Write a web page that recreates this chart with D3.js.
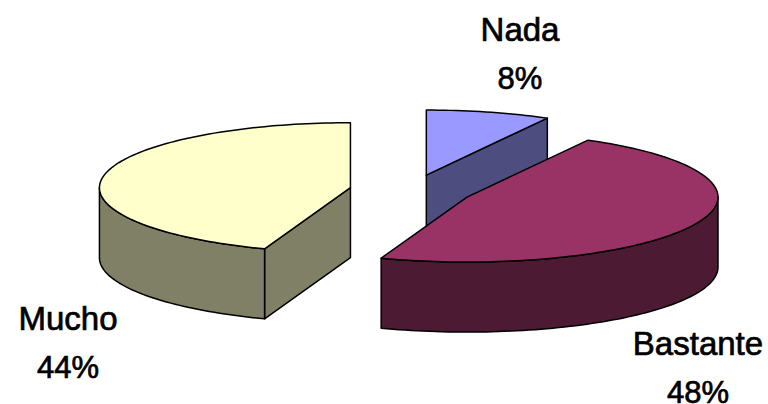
<!DOCTYPE html>
<html>
<head>
<meta charset="utf-8">
<script src="https://cdnjs.cloudflare.com/ajax/libs/d3/7.8.5/d3.min.js"></script>
<style>
  html, body { margin: 0; padding: 0; background: #fff; overflow: hidden; }
  svg { display: block; }
  text { font-family: "Liberation Sans", Arial, sans-serif; font-size: 33px; fill: #000; text-anchor: middle; stroke: #000; stroke-width: 0.7px; }
  text.pct { font-size: 31px; }
</style>
</head>
<body>
<div id="chart"></div>
<script>
// values, order is clockwise from 12 o'clock
var categories = ['Nada', 'Bastante', 'Mucho'];
var values = [8, 47.5, 44.4];
var topColors = ['#9999ff', '#993366', '#ffffcc'];
var wallColors = ['#4d4d80', '#4d1a33', '#808066'];

var width = 768, height = 404;
var cx = 411, cy = 190.5;   // pie centre before the explode
var rx = 251, ry = 65;      // ellipse of the tilted pie
var depth = 70;
var explode = 0.245;

// where each label sits, [x, first baseline]
var labelPos = [[520, 41], [698, 355], [68, 330]];
var labelGap = 47.5;

var svg = d3.select('#chart').append('svg')
  .attr('width', width).attr('height', height);

var pie = d3.pie().sort(null).value(function(d) { return d; });
var slices = pie(values);

var line = d3.line();

// pie plane -> screen. angle 0 is up, going clockwise
var project = function(c, a, r) {
  return [c[0] + rx * r * Math.sin(a), c[1] - ry * r * Math.cos(a)];
};

var arcPoints = function(c, a0, a1) {
  var n = Math.max(2, Math.ceil((a1 - a0) * 40));
  return d3.range(n + 1).map(function(i) {
    return project(c, a0 + (a1 - a0) * i / n, 1);
  });
};

var down = function(p) { return [p[0], p[1] + depth]; };

slices.forEach(function(d) {
  var mid = (d.startAngle + d.endAngle) / 2;
  d.center = project([cx, cy], mid, explode);
});

// back to front: Nada gets covered by Bastante
var drawOrder = [0, 2, 1];

var g = svg.append('g').attr('stroke', '#000').attr('stroke-width', 1.5).attr('stroke-linejoin', 'round');

drawOrder.forEach(function(i) {
  var d = slices[i], c = d.center;

  // flat cut face, only seen when it turns towards the viewer
  var cutAngle = null;
  if (d.endAngle < Math.PI) cutAngle = d.endAngle;
  else if (d.startAngle > Math.PI) cutAngle = d.startAngle;
  if (cutAngle !== null) {
    var e = project(c, cutAngle, 1);
    g.append('path')
      .attr('d', line([c, e, down(e), down(c)]) + 'Z')
      .attr('fill', wallColors[i]);
  }

  // outer rim, front half of the ellipse only
  var a0 = Math.max(d.startAngle, Math.PI / 2),
      a1 = Math.min(d.endAngle, 3 * Math.PI / 2);
  if (a1 > a0) {
    var rim = arcPoints(c, a0, a1);
    g.append('path')
      .attr('d', line(rim.concat(rim.slice().reverse().map(down))) + 'Z')
      .attr('fill', wallColors[i]);
  }

  g.append('path')
    .attr('d', line([c].concat(arcPoints(c, d.startAngle, d.endAngle))) + 'Z')
    .attr('fill', topColors[i]);
});

categories.forEach(function(name, i) {
  var t = svg.append('g');
  t.append('text').attr('x', labelPos[i][0]).attr('y', labelPos[i][1]).text(name);
  t.append('text').attr('class', 'pct').attr('x', labelPos[i][0]).attr('y', labelPos[i][1] + labelGap)
    .text(Math.round(values[i]) + '%');
});
</script>
</body>
</html>
